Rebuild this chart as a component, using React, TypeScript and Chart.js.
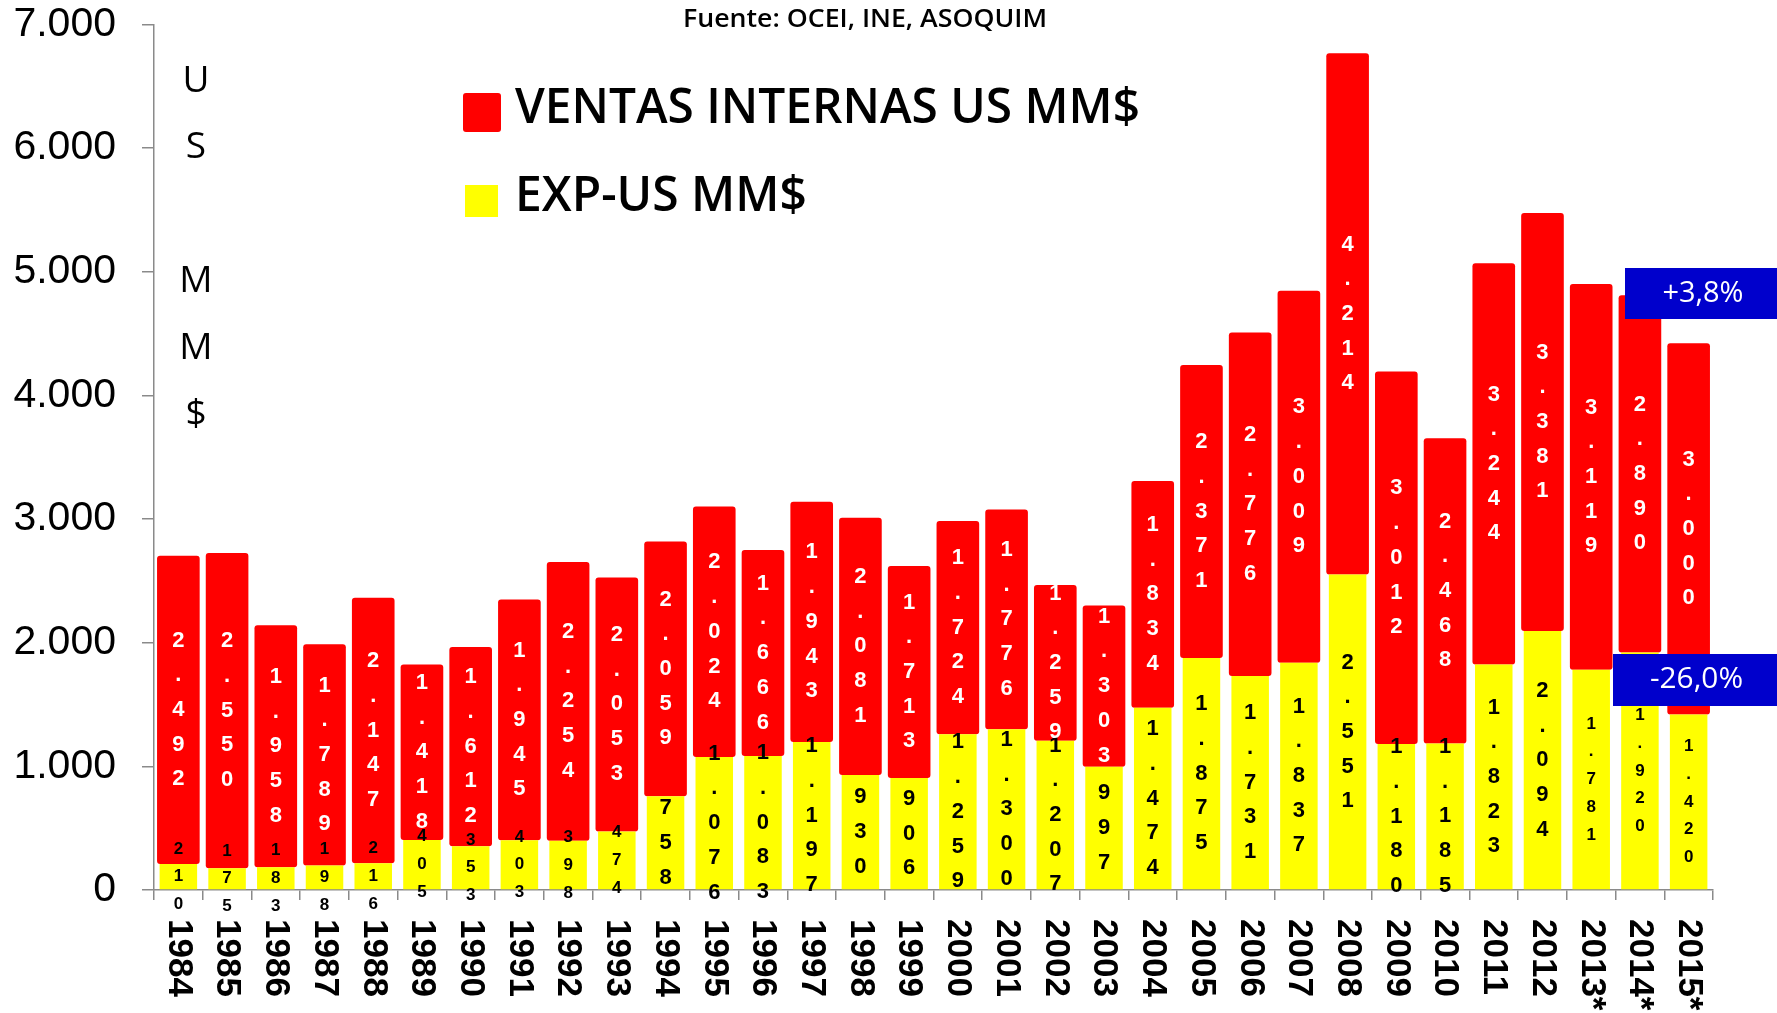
import React, { useEffect, useRef } from 'react';
import { Chart, registerables } from 'chart.js';

Chart.register(...registerables);

const categories = [
  '1984', '1985', '1986', '1987', '1988', '1989', '1990', '1991', '1992', '1993',
  '1994', '1995', '1996', '1997', '1998', '1999', '2000', '2001', '2002', '2003',
  '2004', '2005', '2006', '2007', '2008', '2009', '2010', '2011', '2012',
  '2013*', '2014*', '2015*',
];

const ventasInternas = [
  2492, 2550, 1958, 1789, 2147, 1418, 1612, 1945, 2254, 2053,
  2059, 2024, 1666, 1943, 2081, 1713, 1724, 1776, 1259, 1303,
  1834, 2371, 2776, 3009, 4214, 3012, 2468, 3244, 3381,
  3119, 2890, 3000,
];

const exportaciones = [
  210, 175, 183, 198, 216, 405, 353, 403, 398, 474,
  758, 1076, 1083, 1197, 930, 906, 1259, 1300, 1207, 997,
  1474, 1875, 1731, 1837, 2551, 1180, 1185, 1823, 2094,
  1781, 1920, 1420,
];

const yTickValues = [0, 1000, 2000, 3000, 4000, 5000, 6000, 7000];

const seriesNames = ['VENTAS INTERNAS US MM$', 'EXP-US MM$'];
const sourceNote = 'Fuente: OCEI, INE, ASOQUIM';
const unitLetters = ['U', 'S', '', 'M', 'M', '$'];
const changeNotes = ['+3,8%', '-26,0%'];

const RED = '#FF0000';
const YELLOW = '#FFFF00';
const BLUE = '#0000CC';
const AXIS = '#8a8a8a';
const ARIAL = '"Liberation Sans", Arial, sans-serif';
const SANS = '"Open Sans", "Noto Sans", sans-serif';

function fmt(n: number): string {
  return String(Math.round(n)).replace(/\B(?=(\d{3})+(?!\d))/g, '.');
}

function fillFitted(ctx: CanvasRenderingContext2D, text: string, x: number, y: number, width: number) {
  const w = ctx.measureText(text).width;
  ctx.save();
  ctx.translate(x, y);
  ctx.scale(width / w, 1);
  ctx.textAlign = 'left';
  ctx.fillText(text, 0, 0);
  ctx.restore();
}

const stackLabels = {
  id: 'stackLabels',
  afterDatasetsDraw(chart: any) {
    const ctx: CanvasRenderingContext2D = chart.ctx;
    ctx.save();
    ctx.textAlign = 'center';
    ctx.textBaseline = 'middle';
    chart.data.datasets.forEach((ds: any, di: number) => {
      const meta = chart.getDatasetMeta(di);
      meta.data.forEach((bar: any, i: number) => {
        const v = ds.data[i] as number;
        const chars = fmt(v).split('');
        const isExp = di === 0;
        const small = isExp && (v < 500 || categories[i].includes('*'));
        const size = small ? 17 : 22;
        const lh = small ? 27.8 : 34.7;
        ctx.font = `bold ${size}px ${ARIAL}`;
        ctx.fillStyle = isExp ? '#000000' : '#FFFFFF';
        const p = bar.getProps(['x', 'y', 'base'], true);
        const cy = (p.y + p.base) / 2;
        const start = cy - ((chars.length - 1) * lh) / 2;
        chars.forEach((c, k) => ctx.fillText(c, p.x, start + k * lh));
      });
    });
    ctx.restore();
  },
  afterDraw(chart: any) {
    const ctx: CanvasRenderingContext2D = chart.ctx;
    const xScale = chart.scales.x;
    ctx.save();
    ctx.fillStyle = '#000000';

    // rotated category labels (reading downwards)
    ctx.font = `bold 35px ${ARIAL}`;
    ctx.textAlign = 'left';
    ctx.textBaseline = 'middle';
    categories.forEach((c, i) => {
      const x = xScale.getPixelForTick(i);
      ctx.save();
      ctx.translate(x, 919);
      ctx.rotate(Math.PI / 2);
      ctx.fillText(c, 0, 0);
      ctx.restore();
    });

    // source note
    ctx.textBaseline = 'alphabetic';
    ctx.font = `600 25px ${SANS}`;
    fillFitted(ctx, sourceNote, 683, 26.5, 364);

    // unit letters
    ctx.font = `400 37px ${SANS}`;
    ctx.textAlign = 'center';
    unitLetters.forEach((l, k) => {
      if (l) ctx.fillText(l, 196, 91.7 + k * 66.7);
    });

    // legend
    ctx.fillStyle = RED;
    ctx.beginPath();
    (ctx as any).roundRect(463, 93, 38, 39, 3);
    ctx.fill();
    ctx.fillStyle = YELLOW;
    ctx.fillRect(465, 185, 33, 32);
    ctx.fillStyle = '#000000';
    ctx.font = `600 49px ${SANS}`;
    fillFitted(ctx, seriesNames[0], 515, 122.7, 625);
    fillFitted(ctx, seriesNames[1], 515, 210.7, 292);

    // change notes
    ctx.fillStyle = BLUE;
    ctx.fillRect(1625, 268, 152, 51);
    ctx.fillRect(1613, 654, 164, 52);
    ctx.fillStyle = '#FFFFFF';
    ctx.font = `400 30px ${SANS}`;
    fillFitted(ctx, changeNotes[0], 1703 - 40.5, 301.5, 81);
    fillFitted(ctx, changeNotes[1], 1696.5 - 46.5, 688.3, 93);

    ctx.restore();
  },
};

export default function App() {
  const ref = useRef<HTMLCanvasElement | null>(null);

  useEffect(() => {
    document.body.style.margin = '0';
    const canvas = ref.current;
    if (!canvas) return;
    const chart = new Chart(canvas, {
      type: 'bar',
      data: {
        labels: categories,
        datasets: [
          {
            label: seriesNames[1],
            data: exportaciones,
            backgroundColor: YELLOW,
            borderWidth: 0,
            barPercentage: 0.77,
            categoryPercentage: 1,
          },
          {
            label: seriesNames[0],
            data: ventasInternas,
            backgroundColor: RED,
            borderWidth: 0,
            barPercentage: 0.875,
            categoryPercentage: 1,
            borderRadius: { topLeft: 3, topRight: 3, bottomLeft: 3, bottomRight: 3 },
            borderSkipped: false,
          },
        ],
      },
      options: {
        responsive: false,
        animation: false,
        devicePixelRatio: 1,
        layout: { padding: { top: 24.3, right: 64, left: 0, bottom: 0 } },
        plugins: {
          legend: { display: false },
          tooltip: { enabled: false },
          title: { display: false },
        },
        scales: {
          x: {
            stacked: true,
            grid: {
              display: true,
              drawOnChartArea: false,
              drawTicks: true,
              tickLength: 10,
              color: AXIS,
              lineWidth: 1.5,
              offset: true,
            },
            border: { display: true, color: AXIS, width: 1.5 },
            ticks: { display: false },
            afterFit: (s: any) => {
              s.height = 123;
              s.paddingLeft = 0;
              s.paddingRight = 0;
            },
          },
          y: {
            stacked: true,
            min: 0,
            max: 7000,
            afterBuildTicks: (s: any) => {
              s.ticks = yTickValues.map((v) => ({ value: v }));
            },
            ticks: {
              color: '#000000',
              padding: 26,
              font: { family: ARIAL, size: 41, lineHeight: 1 },
              callback: (v: any) => fmt(Number(v)),
            },
            grid: {
              display: true,
              drawOnChartArea: false,
              drawTicks: true,
              tickLength: 12,
              color: AXIS,
              lineWidth: 1.5,
            },
            border: { display: true, color: AXIS, width: 1.5 },
            afterFit: (s: any) => {
              s.width = 154;
              s.paddingTop = 0;
              s.paddingBottom = 0;
            },
          },
        },
      },
      plugins: [stackLabels],
    });
    return () => chart.destroy();
  }, []);

  return (
    <div style={{ width: 1777, height: 1013, background: '#ffffff' }}>
      <canvas ref={ref} width={1777} height={1013} style={{ display: 'block' }} />
    </div>
  );
}
